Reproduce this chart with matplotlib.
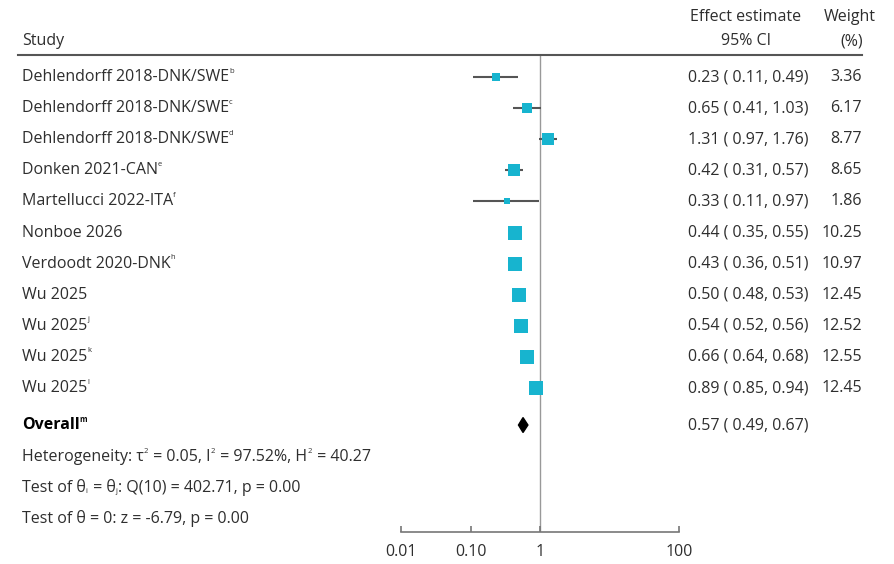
import numpy as np
import matplotlib.pyplot as plt
import matplotlib.transforms as mtransforms
from matplotlib.lines import Line2D

plt.rcParams['font.family'] = ['Open Sans', 'DejaVu Sans']

# study rows
studies = ["Dehlendorff 2018-DNK/SWE", "Dehlendorff 2018-DNK/SWE", "Dehlendorff 2018-DNK/SWE",
           "Donken 2021-CAN", "Martellucci 2022-ITA", "Nonboe 2026", "Verdoodt 2020-DNK",
           "Wu 2025", "Wu 2025", "Wu 2025", "Wu 2025"]
notes = ["b", "c", "d", "e", "f", "", "h", "", "j", "k", "l"]
est = [0.23, 0.65, 1.31, 0.42, 0.33, 0.44, 0.43, 0.50, 0.54, 0.66, 0.89]
lo = [0.11, 0.41, 0.97, 0.31, 0.11, 0.35, 0.36, 0.48, 0.52, 0.64, 0.85]
hi = [0.49, 1.03, 1.76, 0.57, 0.97, 0.55, 0.51, 0.53, 0.56, 0.68, 0.94]
weights = [3.36, 6.17, 8.77, 8.65, 1.86, 10.25, 10.97, 12.45, 12.52, 12.55, 12.45]

# overall
overall = (0.57, 0.49, 0.67)
overall_note = "m"
# each stats line as runs of (text, kind): n = normal, sup, sub
stats_lines = [
    [("Heterogeneity: τ", "n"), ("2", "sup"), (" = 0.05, I", "n"), ("2", "sup"),
     (" = 97.52%, H", "n"), ("2", "sup"), (" = 40.27", "n")],
    [("Test of θ", "n"), ("i", "sub"), (" = θ", "n"), ("j", "sub"), (": Q(10) = 402.71, p = 0.00", "n")],
    [("Test of θ = 0: z = -6.79, p = 0.00", "n")],
]

xticks = [0.01, 0.1, 1, 100]
xticklabels = ["0.01", "0.10", "1", "100"]

W, H = 894, 564
fig = plt.figure(figsize=(W / 100, H / 100), dpi=100)
renderer = fig.canvas.get_renderer()

# forest axes: 0.01..100 spans x px 401..679, header line to axis line y px 55..532
ax = fig.add_axes([401 / W, 1 - 532 / H, (679 - 401) / W, (532 - 55) / H])
ax.set_xscale("log")
ax.set_xlim(0.01, 100)
ax.set_ylim(14.63, -0.71)

txt_col = "#2e2e2e"
sq_col = "#17B4CF"
fs = 11.5
fs_small = 5.5

rows = np.arange(len(studies))
y_overall = 11.19
y_stats = [12.22, 13.2, 14.18]

ax.axvline(1, color="#999999", lw=1, zorder=1)

for i in rows:
    ax.plot([lo[i], hi[i]], [i, i], color="#555555", lw=1.5, zorder=2, solid_capstyle="butt")
    side_px = 4.1 * np.sqrt(weights[i])
    ax.plot(est[i], i, marker="s", color=sq_col, markersize=side_px * 0.72,
            markeredgewidth=0, zorder=3)

e, l, h = overall
ax.fill([l, e, h, e], [y_overall, y_overall - 0.24, y_overall, y_overall + 0.24],
        color="black", zorder=3)

for s in ["top", "right", "left"]:
    ax.spines[s].set_visible(False)
ax.spines["bottom"].set_color("#777777")
ax.spines["bottom"].set_linewidth(1.2)
ax.set_yticks([])
ax.set_xticks(xticks)
ax.set_xticklabels(xticklabels)
ax.minorticks_off()
ax.tick_params(axis="x", direction="in", length=4, width=1.2, color="#777777",
               labelsize=fs, labelcolor=txt_col, pad=9)

tr = mtransforms.blended_transform_factory(fig.transFigure, ax.transData)


def draw_runs(x_px, y, runs, **kw):
    # draw text pieces one after another, small raised / lowered letters for sup / sub
    x = x_px
    for s, kind in runs:
        off = 0
        size = fs
        if kind == "sup":
            size, off = fs_small, 6
        elif kind == "sub":
            size, off = fs_small, -4
        t = fig.text(x / W, y, s, transform=tr + mtransforms.ScaledTranslation(0, off / 100, fig.dpi_scale_trans),
                     ha="left", va="center", fontsize=size, color=kw.get("color", txt_col),
                     fontweight=kw.get("fontweight", "normal"))
        x += t.get_window_extent(renderer).width + (1 if kind != "n" else 0)


# text columns
x_lab = 22
x_est = 808 / W
x_wt = 862 / W

for i in rows:
    runs = [(studies[i], "n")]
    if notes[i]:
        runs.append((notes[i], "sup"))
    draw_runs(x_lab, i, runs)
    fig.text(x_est, i, f"{est[i]:.2f} ( {lo[i]:.2f}, {hi[i]:.2f})", transform=tr,
             ha="right", va="center", fontsize=fs, color=txt_col)
    fig.text(x_wt, i, f"{weights[i]:.2f}", transform=tr, ha="right", va="center",
             fontsize=fs, color=txt_col)

draw_runs(x_lab, y_overall, [("Overall", "n"), (overall_note, "sup")],
          color="black", fontweight="bold")
fig.text(x_est, y_overall, f"{e:.2f} ( {l:.2f}, {h:.2f})", transform=tr,
         ha="right", va="center", fontsize=fs, color=txt_col)
for yy, runs in zip(y_stats, stats_lines):
    draw_runs(x_lab, yy, runs)

# header
fig.text(x_lab / W, 1 - 41 / H, "Study", ha="left", va="center", fontsize=fs, color=txt_col)
fig.text(746 / W, 1 - 17 / H, "Effect estimate", ha="center", va="center", fontsize=fs, color=txt_col)
fig.text(746 / W, 1 - 41 / H, "95% CI", ha="center", va="center", fontsize=fs, color=txt_col)
fig.text(850 / W, 1 - 17 / H, "Weight", ha="center", va="center", fontsize=fs, color=txt_col)
fig.text(852 / W, 1 - 41 / H, "(%)", ha="center", va="center", fontsize=fs, color=txt_col)
fig.add_artist(Line2D([18 / W, 862 / W], [1 - 55 / H, 1 - 55 / H], color="#555555", lw=1.5))

fig.savefig("out.png", dpi=100)
